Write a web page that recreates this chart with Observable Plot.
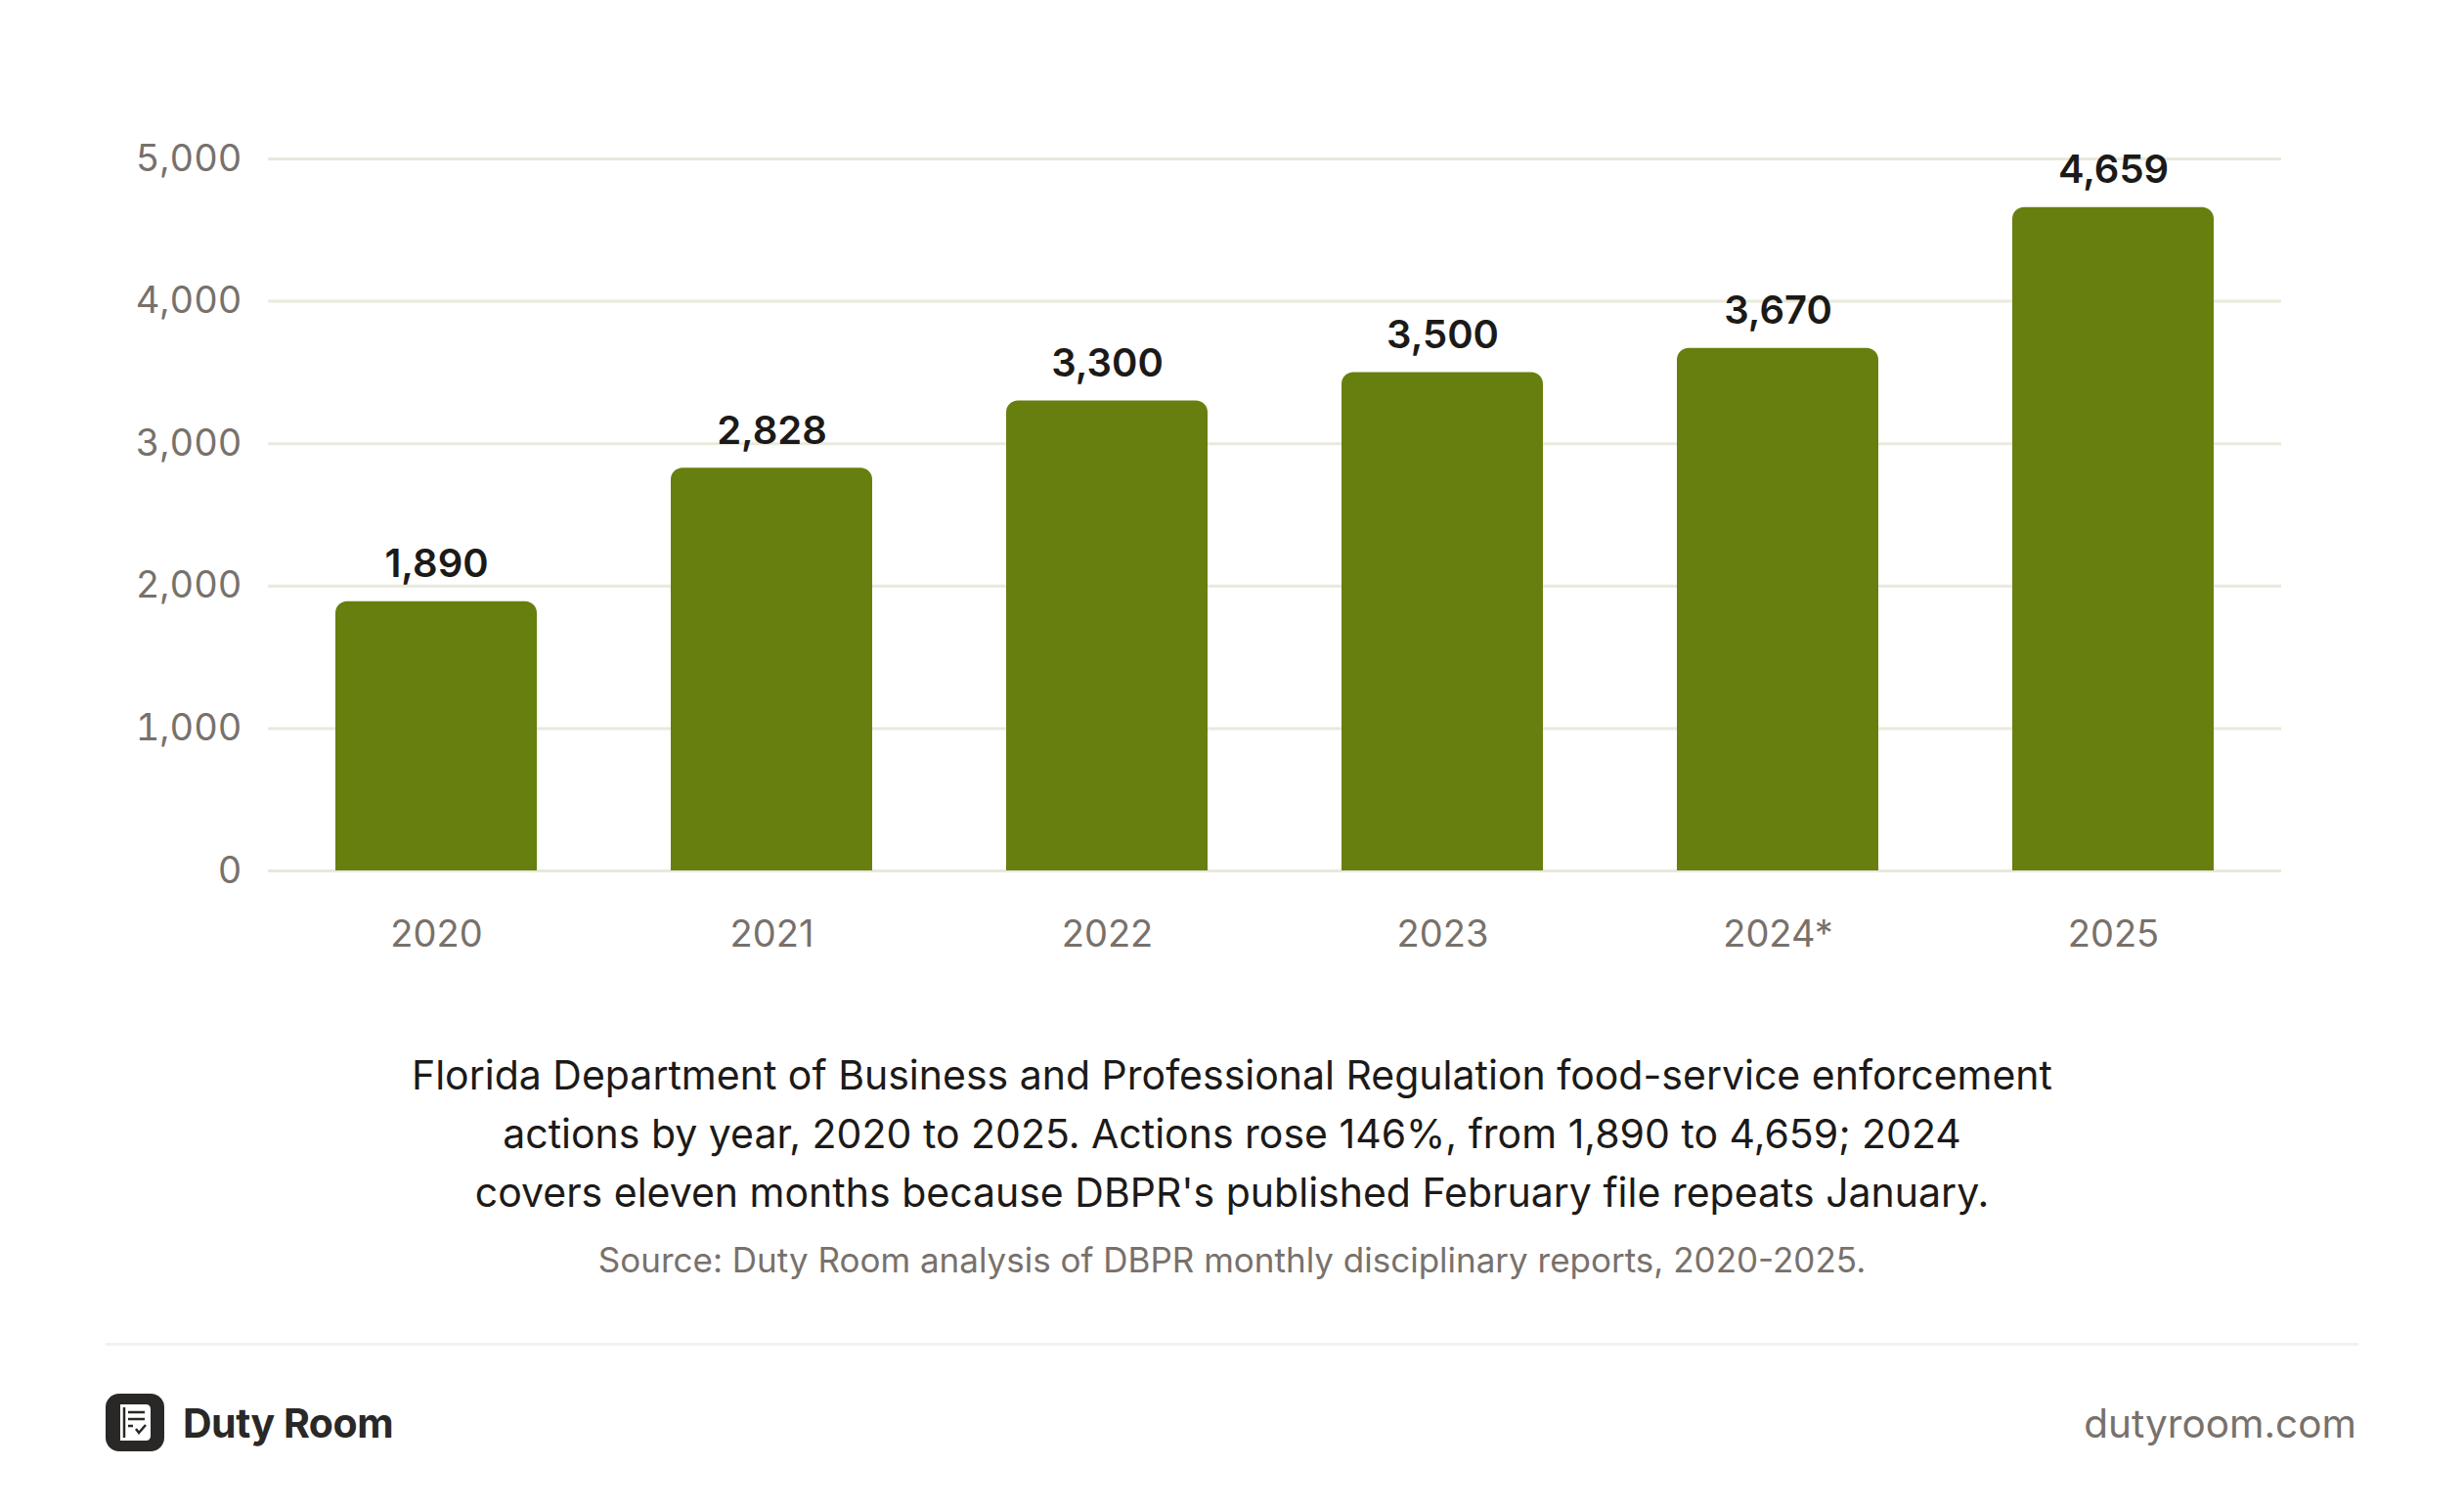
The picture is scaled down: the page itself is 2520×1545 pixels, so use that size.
<!DOCTYPE html>
<html>
<head>
<meta charset="utf-8">
<script src="https://cdn.jsdelivr.net/npm/d3@7"></script>
<script src="https://cdn.jsdelivr.net/npm/@observablehq/plot@0.6"></script>
<style>
  html, body { margin: 0; padding: 0; background: #ffffff; }
  body { width: 2520px; height: 1545px; position: relative; overflow: hidden; font-family: Inter, "Noto Sans", sans-serif; }
  #chart { position: absolute; left: 0; top: 0; }
  .caption { position: absolute; left: 0; width: 2520px; text-align: center; color: #1c1a18; font-size: 41px; line-height: 60px; top: 1069px; }
  .source { position: absolute; left: 0; width: 2520px; text-align: center; color: #78716b; font-size: 35px; top: 1267px; }
  .sep { position: absolute; left: 108px; width: 2304px; top: 1373px; height: 3px; background: #f2f1ef; }
  .brand { position: absolute; left: 108px; top: 1425px; height: 59px; display: flex; align-items: center; }
  .brand span { font-weight: 700; font-size: 41px; color: #2a2827; margin-left: 19px; letter-spacing: -0.5px; }
  .site { position: absolute; right: 110px; top: 1431px; font-size: 40.5px; color: #78716b; }
</style>
</head>
<body>
<div id="chart"></div>
<div class="caption">Florida Department of Business and Professional Regulation food-service enforcement<br>actions by year, 2020 to 2025. Actions rose 146%, from 1,890 to 4,659; 2024<br>covers eleven months because DBPR's published February file repeats January.</div>
<div class="source">Source: Duty Room analysis of DBPR monthly disciplinary reports, 2020-2025.</div>
<div class="sep"></div>
<div class="brand">
  <svg width="60" height="59" viewBox="0 0 60 59">
    <rect x="0" y="0" width="60" height="59" rx="14" fill="#2a2827"/>
    <path d="M15 11 H41 Q46 11 46 16 V43 Q46 48 41 48 H15 Z" fill="#ffffff"/>
    <line x1="19" y1="14" x2="19" y2="45" stroke="#2a2827" stroke-width="2.5"/>
    <line x1="23" y1="19" x2="40" y2="19" stroke="#2a2827" stroke-width="2.5"/>
    <line x1="23" y1="26" x2="40" y2="26" stroke="#2a2827" stroke-width="2.5"/>
    <line x1="23" y1="33" x2="28" y2="33" stroke="#2a2827" stroke-width="2.5"/>
    <path d="M31 36 L34 40 L41 32" fill="none" stroke="#2a2827" stroke-width="2.5"/>
  </svg>
  <span>Duty Room</span>
</div>
<div class="site">dutyroom.com</div>
<script>
const years = ["2020", "2021", "2022", "2023", "2024*", "2025"];
const actions = [1890, 2828, 3300, 3500, 3670, 4659];
const yTicks = [0, 1000, 2000, 3000, 4000, 5000];

const data = years.map((year, i) => ({year, actions: actions[i]}));
const fmt = d3.format(",");

const chart = Plot.plot({
  width: 2520,
  height: 1000,
  marginTop: 162,
  marginBottom: 110,
  marginLeft: 274,
  marginRight: 187,
  style: {fontFamily: "Inter, 'Noto Sans', sans-serif", background: "transparent"},
  x: {domain: years, paddingInner: 0.4, paddingOuter: 0.2, label: null},
  y: {domain: [0, 5000], label: null},
  marks: [
    Plot.gridY(yTicks, {stroke: "#e9e9dc", strokeOpacity: 1, strokeWidth: 3}),
    Plot.axisY(yTicks, {tickSize: 0, tickPadding: 27, fontSize: 38, fill: "#78716b", tickFormat: fmt, label: null}),
    Plot.axisX({tickSize: 0, tickPadding: 51, fontSize: 38, fill: "#78716b", label: null}),
    Plot.barY(data, {x: "year", y: "actions", fill: "#677f0e", rx1y1: 12, rx2y1: 12}),
    Plot.text(data, {x: "year", y: "actions", text: d => fmt(d.actions), lineAnchor: "bottom", dy: -25, fontSize: 40, fontWeight: 600, fill: "#1c1a18"})
  ]
});
document.getElementById("chart").appendChild(chart);
</script>
</body>
</html>
